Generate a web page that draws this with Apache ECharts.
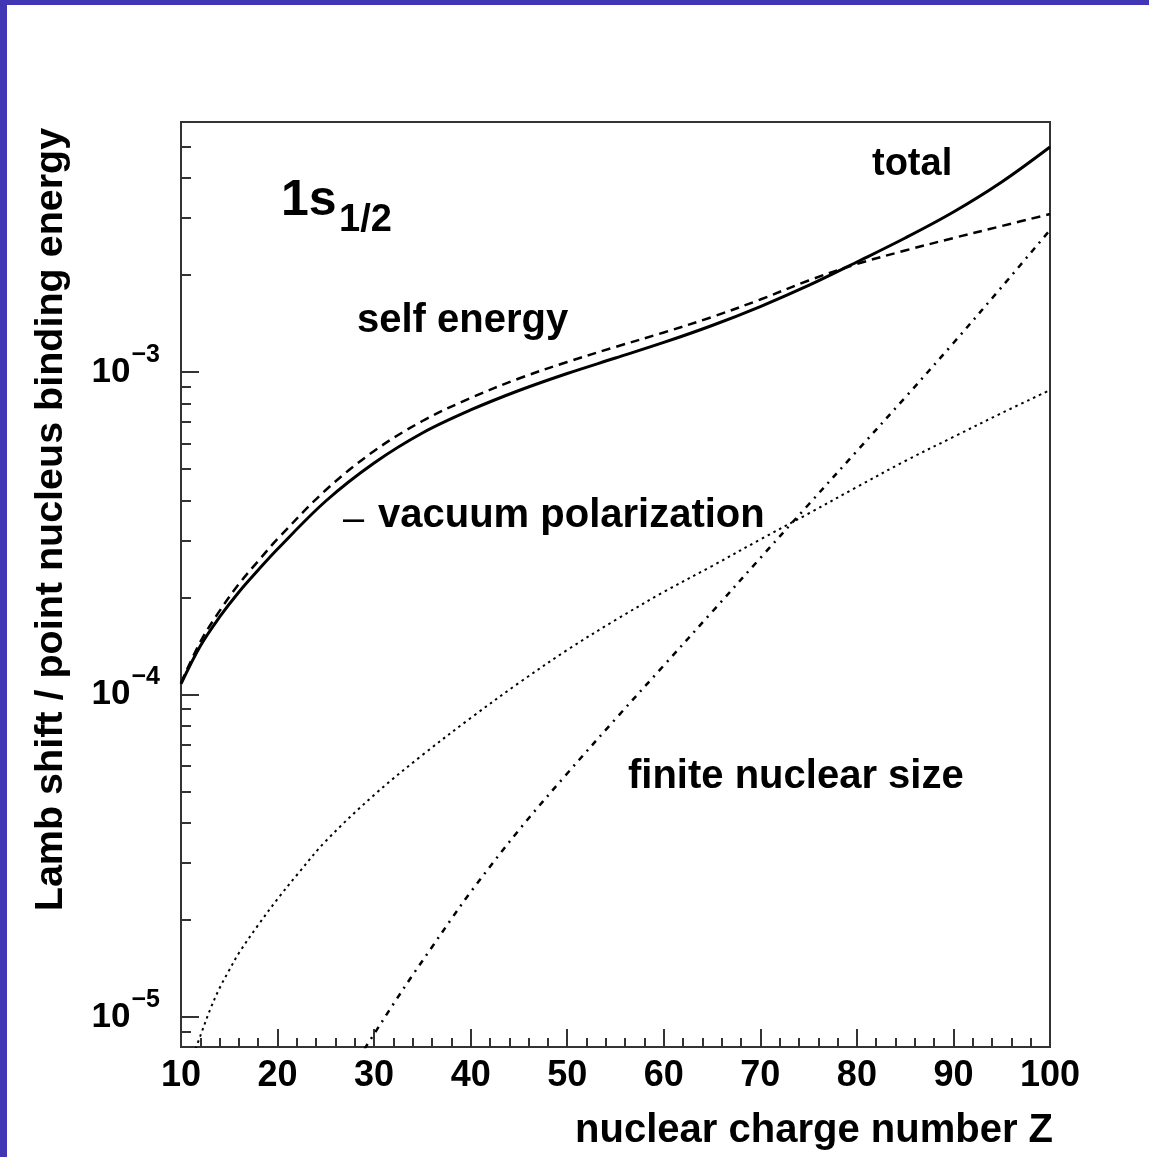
<!DOCTYPE html>
<html>
<head>
<meta charset="utf-8">
<script src="https://cdn.jsdelivr.net/npm/echarts@6/dist/echarts.min.js"></script>
<style>
  html, body { margin: 0; padding: 0; background: #ffffff; }
  #chart { width: 1149px; height: 1157px; }
</style>
</head>
<body>
<div id="chart"></div>
<script>
// Lamb shift of the 1s1/2 state divided by the point-nucleus binding energy,
// split into its contributions, as a function of the nuclear charge Z.

// total Lamb shift (solid)
const zTotal = [10, 12, 14, 16, 18, 20, 25, 30, 35, 40, 45, 50, 55, 60, 65, 70, 75, 80, 85, 90, 95, 100];
const total = [1.078e-4, 1.414e-4, 1.739e-4, 2.079e-4, 2.432e-4, 2.826e-4, 3.981e-4, 5.222e-4, 6.470e-4,
  7.624e-4, 8.762e-4, 9.894e-4, 1.105e-3, 1.235e-3, 1.394e-3, 1.596e-3, 1.855e-3, 2.193e-3, 2.603e-3,
  3.134e-3, 3.883e-3, 4.984e-3];

// self energy (dashed)
const zSelf = [10, 12, 14, 16, 18, 20, 25, 30, 35, 40, 45, 50, 55, 60, 65, 70, 75, 80, 85, 90, 95, 100];
const selfEnergy = [1.086e-4, 1.455e-4, 1.816e-4, 2.201e-4, 2.594e-4, 3.036e-4, 4.306e-4, 5.690e-4, 7.047e-4,
  8.306e-4, 9.547e-4, 1.074e-3, 1.196e-3, 1.326e-3, 1.481e-3, 1.678e-3, 1.922e-3, 2.162e-3, 2.381e-3,
  2.603e-3, 2.836e-3, 3.090e-3];

// minus vacuum polarization (dotted)
const zVacuum = [11.5, 12, 13, 14, 15, 16, 18, 20, 22, 25, 30, 35, 40, 45, 50, 55, 60, 65, 70, 75, 80, 85, 90, 95, 100];
const vacuumPol = [7.96e-6, 8.73e-6, 1.051e-5, 1.230e-5, 1.398e-5, 1.579e-5, 1.929e-5, 2.322e-5, 2.756e-5,
  3.513e-5, 4.88e-5, 6.49e-5, 8.45e-5, 1.086e-4, 1.374e-4, 1.702e-4, 2.079e-4, 2.502e-4, 3.025e-4,
  3.641e-4, 4.398e-4, 5.297e-4, 6.29e-4, 7.46e-4, 8.79e-4];

// finite nuclear size (dash-dotted)
const zFinite = [29, 30, 32, 34, 36, 38, 40, 45, 50, 55, 60, 65, 70, 75, 80, 85, 90, 95, 100];
const finiteSize = [7.958e-6, 8.858e-6, 1.097e-5, 1.350e-5, 1.648e-5, 2.013e-5, 2.441e-5, 3.800e-5, 5.690e-5,
  8.397e-5, 1.230e-4, 1.803e-4, 2.650e-4, 3.883e-4, 5.690e-4, 8.337e-4, 1.230e-3, 1.835e-3, 2.756e-3];

// y axis ticks (decades are labelled)
const yMajorTicks = [1e-5, 1e-4, 1e-3];
const yMinorTicks = [9e-6,
  2e-5, 3e-5, 4e-5, 5e-5, 6e-5, 7e-5, 8e-5, 9e-5,
  2e-4, 3e-4, 4e-4, 5e-4, 6e-4, 7e-4, 8e-4, 9e-4,
  2e-3, 3e-3, 4e-3, 5e-3];

const FONT = '"Liberation Sans", Arial, Helvetica, sans-serif';
const INK = '#000000';
const FRAME = '#333333';
const Y_MIN = 8.07e-6;
const Y_MAX = 5.96e-3;

const pairs = (xs, ys) => xs.map((x, i) => [x, ys[i]]);

function lineSeries(name, xs, ys, width, type) {
  return {
    name: name,
    type: 'line',
    xAxisIndex: 0,
    yAxisIndex: 0,
    data: pairs(xs, ys),
    showSymbol: false,
    symbol: 'none',
    smooth: 0.35,
    clip: true,
    silent: true,
    lineStyle: { color: INK, width: width, type: type, cap: 'butt' },
    z: 3
  };
}

function expLabel(v) {
  const e = Math.round(Math.log10(v));
  return '{b|10}{s|\u2212' + Math.abs(e) + '}';
}

const chart = echarts.init(document.getElementById('chart'), null, { renderer: 'canvas' });

chart.setOption({
  animation: false,
  backgroundColor: '#ffffff',
  textStyle: { fontFamily: FONT },
  grid: {
    left: 181, top: 122, right: 99, bottom: 110,
    show: true, borderColor: FRAME, borderWidth: 2, backgroundColor: '#ffffff',
    containLabel: false, outerBoundsMode: 'none'
  },
  xAxis: {
    type: 'value',
    min: 10, max: 100, interval: 10,
    name: 'nuclear charge number Z',
    nameLocation: 'end',
    nameGap: 3,
    nameTextStyle: {
      fontFamily: FONT, fontSize: 40, fontWeight: 'bold', color: INK,
      align: 'right', verticalAlign: 'top', padding: [64, 0, 0, 0]
    },
    axisLine: { show: true, onZero: false, lineStyle: { color: FRAME, width: 2 } },
    axisTick: { show: true, inside: true, length: 18, lineStyle: { color: FRAME, width: 2 } },
    minorTick: { show: true, splitNumber: 5, length: 9, lineStyle: { color: FRAME, width: 2 } },
    axisLabel: { fontFamily: FONT, fontSize: 36, fontWeight: 'bold', color: INK, margin: 11 },
    splitLine: { show: false }
  },
  yAxis: [
    {
      type: 'log',
      logBase: 10,
      min: Y_MIN, max: Y_MAX,
      position: 'left',
      name: 'Lamb shift / point nucleus binding energy',
      nameLocation: 'middle',
      nameGap: 110,
      nameRotate: 90,
      nameTextStyle: {
        fontFamily: FONT, fontSize: 39.5, fontWeight: 'bold', color: INK,
        padding: [0, 0, 0, 130]
      },
      axisLine: { show: true, lineStyle: { color: FRAME, width: 2 } },
      axisTick: { show: true, inside: true, length: 18, customValues: yMajorTicks, lineStyle: { color: FRAME, width: 2 } },
      axisLabel: {
        customValues: yMajorTicks,
        margin: 21,
        formatter: expLabel,
        rich: {
          b: { fontFamily: FONT, fontSize: 35, fontWeight: 'bold', color: INK },
          s: { fontFamily: FONT, fontSize: 25, fontWeight: 'bold', color: INK, padding: [0, 0, 34, 1] }
        }
      },
      splitLine: { show: false },
      minorTick: { show: false }
    },
    {
      type: 'log',
      logBase: 10,
      min: Y_MIN, max: Y_MAX,
      position: 'left',
      axisLine: { show: false },
      axisTick: { show: true, inside: true, length: 10, customValues: yMinorTicks, lineStyle: { color: FRAME, width: 2 } },
      axisLabel: { show: false },
      splitLine: { show: false }
    }
  ],
  series: [
    lineSeries('total', zTotal, total, 3, 'solid'),
    lineSeries('self energy', zSelf, selfEnergy, 2.5, [9, 6]),
    lineSeries('vacuum polarization', zVacuum, vacuumPol, 2, [2.5, 4]),
    lineSeries('finite nuclear size', zFinite, finiteSize, 2.5, [6, 6, 2, 6])
  ],
  graphic: [
    // blue page border strips
    { type: 'rect', left: 0, top: 0, shape: { width: 1149, height: 5 }, style: { fill: '#4137b5' }, z: 100, silent: true },
    { type: 'rect', left: 0, top: 0, shape: { width: 7, height: 1157 }, style: { fill: '#4137b5' }, z: 100, silent: true },
    // state label 1s_1/2
    { type: 'text', x: 281, y: 201, z: 10, silent: true,
      style: { text: '1s', fontFamily: FONT, fontSize: 50, fontWeight: 'bold', fill: INK, align: 'left', verticalAlign: 'middle' } },
    { type: 'text', x: 339, y: 221, z: 10, silent: true,
      style: { text: '1/2', fontFamily: FONT, fontSize: 38, fontWeight: 'bold', fill: INK, align: 'left', verticalAlign: 'middle' } },
    // curve labels
    { type: 'text', x: 872, y: 165, z: 10, silent: true,
      style: { text: 'total', fontFamily: FONT, fontSize: 38, fontWeight: 'bold', fill: INK, align: 'left', verticalAlign: 'middle' } },
    { type: 'text', x: 357, y: 321, z: 10, silent: true,
      style: { text: 'self energy', fontFamily: FONT, fontSize: 40, fontWeight: 'bold', fill: INK, align: 'left', verticalAlign: 'middle' } },
    { type: 'text', x: 343, y: 521, z: 10, silent: true,
      style: { text: '\u2013', fontFamily: FONT, fontSize: 38, fontWeight: 'normal', fill: INK, align: 'left', verticalAlign: 'middle' } },
    { type: 'text', x: 378, y: 516, z: 10, silent: true,
      style: { text: 'vacuum polarization', fontFamily: FONT, fontSize: 40, fontWeight: 'bold', fill: INK, align: 'left', verticalAlign: 'middle' } },
    { type: 'text', x: 628, y: 777, z: 10, silent: true,
      style: { text: 'finite nuclear size', fontFamily: FONT, fontSize: 40, fontWeight: 'bold', fill: INK, align: 'left', verticalAlign: 'middle' } }
  ]
});
</script>
</body>
</html>
